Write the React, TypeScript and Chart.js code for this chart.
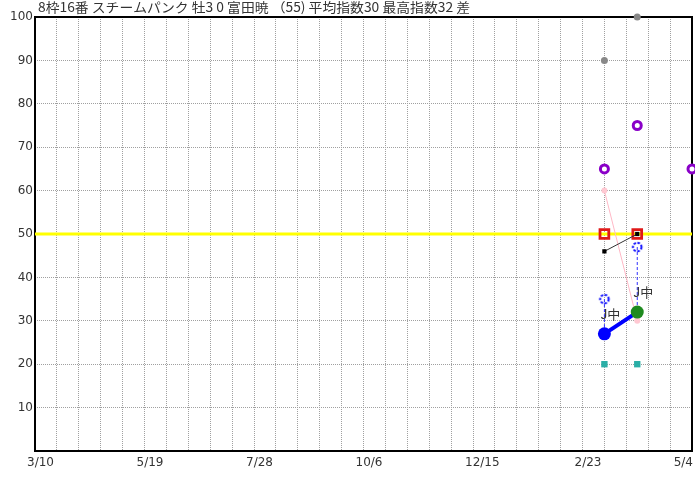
import React, { useEffect, useRef } from 'react';
import { Chart, registerables } from 'chart.js';

Chart.register(...registerables);

const titleText = '8枠16番 スチームパンク 牡3 0 富田暁 （55) 平均指数30 最高指数32 差';
const xMaxDay = 420;
const xTickDays = [0, 70, 140, 210, 280, 350, 420];
const xTickLabels = ['3/10', '5/19', '7/28', '10/6', '12/15', '2/23', '5/4'];
const raceDays = [364, 385];
const mainIndex = [27, 32];
const mainColors = ['#0000ff', '#1f8a1f'];
const courseLabels = ['J中', 'J中'];
const blueCircle = [35, 47];
const grayPoint = [90, 100];
const purpleDays = [364, 385, 420];
const purplePoint = [65, 75, 65];
const pinkPoint = [60, 30];
const redSquare = [50, 50];
const blackSquare = [46, 50];
const tealSquare = [20, 20];
const baseLineValue = 50;

function pts(days: number[], vals: number[]) {
  return vals.map((v, i) => ({ x: days[i], y: v }));
}

export default function App() {
  const ref = useRef<HTMLCanvasElement>(null);

  useEffect(() => {
    const canvas = ref.current!;
    const dashed = document.createElement('canvas');
    dashed.width = 14;
    dashed.height = 14;
    const dc = dashed.getContext('2d')!;
    dc.strokeStyle = '#1010ff';
    dc.lineWidth = 2;
    dc.setLineDash([2.5, 1.5]);
    dc.beginPath();
    dc.arc(7, 7, 4.3, 0, Math.PI * 2);
    dc.stroke();

    const framePlugin = {
      id: 'frame',
      beforeDatasetsDraw(chart: any) {
        const { ctx, chartArea: a } = chart;
        ctx.save();
        ctx.strokeStyle = '#000';
        ctx.lineWidth = 2;
        ctx.strokeRect(a.left, a.top, a.right - a.left, a.bottom - a.top);
        ctx.restore();
      },
      afterDatasetsDraw(chart: any) {
        const { ctx } = chart;
        const xs = chart.scales.x;
        const ys = chart.scales.y;
        ctx.save();
        ctx.font = '13px "Noto Sans CJK JP"';
        ctx.fillStyle = '#333';
        ctx.textAlign = 'left';
        ctx.textBaseline = 'middle';
        raceDays.forEach((d, i) => {
          ctx.fillText(courseLabels[i], xs.getPixelForValue(d) - 4, ys.getPixelForValue(mainIndex[i]) - 20);
        });
        ctx.restore();
      },
      afterDraw(chart: any) {
        const { ctx } = chart;
        const xs = chart.scales.x;
        ctx.save();
        ctx.fillStyle = '#333';
        ctx.textBaseline = 'middle';
        ctx.textAlign = 'left';
        ctx.font = '12px "DejaVu Sans"';
        xTickDays.forEach((d, i) => {
          const w = ctx.measureText(xTickLabels[i]).width;
          let x = xs.getPixelForValue(d) - 8;
          x = Math.min(x, chart.width - 2 - w);
          ctx.fillText(xTickLabels[i], x, 463);
        });
        ctx.font = '13px "Noto Sans CJK JP"';
        const tw = ctx.measureText(titleText).width;
        ctx.translate(38, 7);
        ctx.scale(432 / tw, 1);
        ctx.fillText(titleText, 0, 0);
        ctx.restore();
      },
    };

    const datasets: any[] = [
      {
        data: [{ x: 0, y: baseLineValue }, { x: xMaxDay, y: baseLineValue }],
        showLine: true, borderColor: '#ffff00', borderWidth: 3, pointRadius: 0, order: 20,
      },
      {
        data: pts(raceDays, grayPoint),
        pointRadius: 3.5, pointBackgroundColor: '#888', pointBorderColor: '#888', pointBorderWidth: 0, order: 18, clip: false,
      },
      {
        data: pts(purpleDays, purplePoint),
        pointRadius: 4, pointBackgroundColor: '#fff', pointBorderColor: '#8a00c8', pointBorderWidth: 3, order: 17, clip: false,
      },
      {
        data: pts(raceDays, pinkPoint),
        showLine: true, borderColor: '#ffb8c6', borderWidth: 1,
        pointRadius: 3, pointBackgroundColor: '#ffc8d2', pointBorderColor: '#ffc8d2', pointBorderWidth: 0, order: 16,
      },
      {
        data: pts(raceDays, redSquare),
        pointStyle: 'rect', pointRadius: 6.2, pointBackgroundColor: 'rgba(0,0,0,0)', pointBorderColor: '#e01818', pointBorderWidth: 2.8, order: 15,
      },
      {
        data: pts(raceDays, blackSquare),
        showLine: true, borderColor: '#333', borderWidth: 1,
        pointStyle: 'rect', pointRadius: 3, pointBackgroundColor: '#000', pointBorderColor: '#000', pointBorderWidth: 0, order: 14,
      },
      ...raceDays.map((d, i) => ({
        data: [{ x: d, y: blueCircle[i] }, { x: d, y: mainIndex[i] }],
        showLine: true, borderColor: '#3030ff', borderWidth: 1, borderDash: [3, 2], pointRadius: 0, order: 13,
      })),
      {
        data: pts(raceDays, blueCircle),
        pointStyle: dashed, order: 12,
      },
      {
        data: pts(raceDays, tealSquare),
        pointStyle: 'rect', pointRadius: 4.5, pointBackgroundColor: '#2aaea6', pointBorderColor: '#2aaea6', pointBorderWidth: 0, order: 11,
      },
      {
        data: pts(raceDays, mainIndex),
        showLine: true, borderColor: '#0000ff', borderWidth: 4,
        pointRadius: 6.5, pointBackgroundColor: mainColors, pointBorderColor: mainColors, pointBorderWidth: 0, order: 1,
      },
    ];

    const chart = new Chart(canvas, {
      type: 'scatter',
      data: { datasets },
      options: {
        animation: false,
        responsive: false,
        devicePixelRatio: 1,
        layout: { autoPadding: false, padding: { top: 17, right: 3, left: 0, bottom: 0 } },
        plugins: { legend: { display: false }, tooltip: { enabled: false }, title: { display: false } },
        scales: {
          x: {
            type: 'linear', min: 0, max: xMaxDay,
            ticks: { stepSize: 14, display: false },
            grid: { color: '#a0a0a0', lineWidth: 1, drawTicks: false },
            border: { display: false, dash: [1, 1] },
            afterFit: (s: any) => { s.height = 28; },
          },
          y: {
            min: 0, max: 100,
            ticks: {
              stepSize: 10, padding: 2, color: '#333',
              font: { family: 'DejaVu Sans', size: 12 },
              callback: (v: any) => (v === 0 ? '' : String(v)),
            },
            grid: { color: '#a0a0a0', lineWidth: 1, drawTicks: false },
            border: { display: false, dash: [1, 1] },
            afterFit: (s: any) => { s.width = 35; },
          },
        },
      } as any,
      plugins: [framePlugin],
    });
    return () => chart.destroy();
  }, []);

  return (
    <div style={{ position: 'fixed', left: 0, top: 0, width: 695, height: 479, background: '#fff' }}>
      <canvas ref={ref} width={695} height={479} style={{ display: 'block' }} />
    </div>
  );
}
